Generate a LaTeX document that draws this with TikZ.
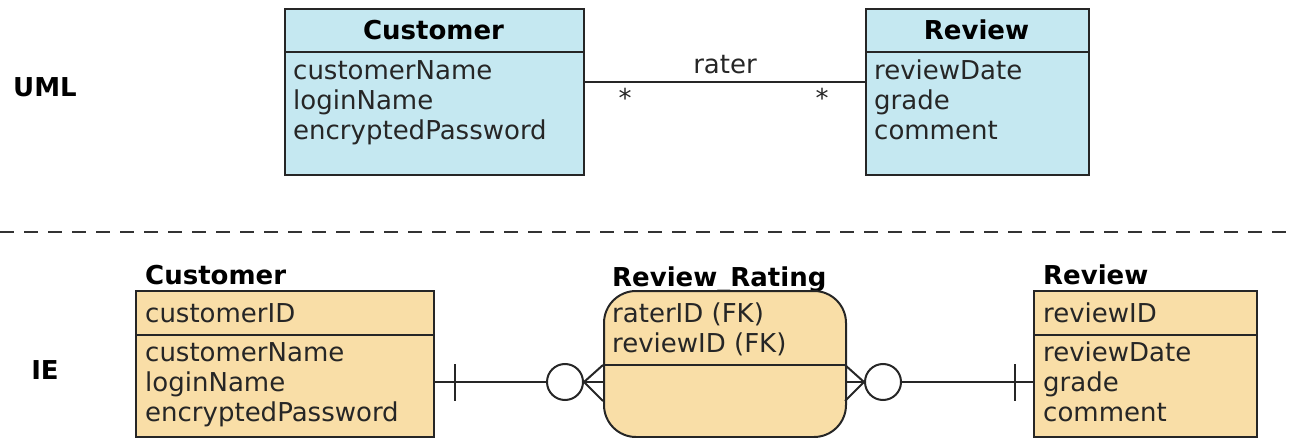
\documentclass[tikz,border=0pt]{standalone}
\usepackage{fontspec}
\setmainfont{DejaVu Sans}
\begin{document}
\begin{tikzpicture}[x=1pt,y=-1pt,
  umlbox/.style={draw=black!85,line width=2pt,fill=umlblue},
  iebox/.style={draw=black!85,line width=2pt,fill=ieorange},
  txt/.style={inner sep=0pt,anchor=base west,font=\fontsize{26}{30}\selectfont,text=black!85},
  ttl/.style={inner sep=0pt,anchor=base west,font=\fontsize{26}{30}\selectfont\bfseries},
  conn/.style={draw=black!85,line width=2pt},
  dividerline/.style={draw=black!85,line width=2pt}
]
\definecolor{umlblue}{RGB}{197,232,241}
\definecolor{ieorange}{RGB}{249,222,167}
\useasboundingbox (0,0) rectangle (1292,438);

% ---- UML ----
\node[ttl,anchor=base] (umllbl) at (45,97) {UML};
\node[umlbox,draw,rectangle,minimum width=299pt,minimum height=166pt,anchor=north west,inner sep=0pt] (ucust) at (284,8) {};
\draw[dividerline] (284,52) -- (583,52);
\node[ttl,anchor=base] (ucustt) at (433.5,40) {Customer};
\node[txt] (uc1) at (293,80) {customerName};
\node[txt] (uc2) at (293,110) {loginName};
\node[txt] (uc3) at (293,140) {encryptedPassword};

\node[umlbox,draw,rectangle,minimum width=223pt,minimum height=166pt,anchor=north west,inner sep=0pt] (urev) at (865,8) {};
\draw[dividerline] (865,52) -- (1088,52);
\node[ttl,anchor=base] (urevt) at (976.5,40) {Review};
\node[txt] (ur1) at (874,80) {reviewDate};
\node[txt] (ur2) at (874,110) {grade};
\node[txt] (ur3) at (874,140) {comment};

\coordinate (ua) at (ucust.east |- 0,82);
\coordinate (ub) at (urev.west |- 0,82);
\draw[conn] (ua) -- (ub);
\node[txt,anchor=base] (rater) at (725,74) {rater};
\node[txt,anchor=base] (star1) at (625,108) {*};
\node[txt,anchor=base] (star2) at (822,108) {*};

% ---- separator ----
\coordinate (sepl) at (0,232);
\coordinate (sepr) at (1292,232);
\draw[draw=black!80,line width=2pt,dash pattern=on 14pt off 10pt] (sepl) -- (sepr);

% ---- IE ----
\node[ttl,anchor=base] (ielbl) at (45,379) {IE};

\node[ttl] (icustt) at (145,284) {Customer};
\node[iebox,draw,rectangle,minimum width=298pt,minimum height=146pt,anchor=north west,inner sep=0pt] (icust) at (135,290) {};
\draw[dividerline] (135,335) -- (433,335);
\node[txt] (ic0) at (145,322) {customerID};
\node[txt] (ic1) at (145,361) {customerName};
\node[txt] (ic2) at (145,391) {loginName};
\node[txt] (ic3) at (145,421) {encryptedPassword};

\node[ttl] (irrt) at (612,287) {Review\_Rating};
\node[iebox,draw,rectangle,rounded corners=32pt,minimum width=242pt,minimum height=146pt,anchor=north west,inner sep=0pt] (irr) at (603,290) {};
\draw[dividerline] (603,365) -- (845,365);
\node[txt] (irr1) at (612,322) {raterID (FK)};
\node[txt] (irr2) at (612,352) {reviewID (FK)};

\node[ttl] (irevt) at (1043,284) {Review};
\node[iebox,draw,rectangle,minimum width=223pt,minimum height=146pt,anchor=north west,inner sep=0pt] (irev) at (1033,290) {};
\draw[dividerline] (1033,335) -- (1256,335);
\node[txt] (ir0) at (1043,322) {reviewID};
\node[txt] (ir1) at (1043,361) {reviewDate};
\node[txt] (ir2) at (1043,391) {grade};
\node[txt] (ir3) at (1043,421) {comment};

% left relationship
\node[circle,draw=black!85,line width=2pt,minimum size=36pt,inner sep=0pt] (lc) at (565,382) {};
\coordinate (la) at (icust.east |- 0,382);
\coordinate (lapex) at (lc.east);
\coordinate (lbox) at (irr.west |- 0,382);
\draw[conn] (la) -- (lc.west);
\draw[conn] (455,364) -- (455,401);
\draw[conn] (lapex) -- (lbox);
\draw[conn] (lapex) -- (603,365);
\draw[conn] (lapex) -- (603,401);

% right relationship
\node[circle,draw=black!85,line width=2pt,minimum size=36pt,inner sep=0pt] (rc) at (883,382) {};
\coordinate (rbox) at (irr.east |- 0,382);
\coordinate (rapex) at (rc.west);
\coordinate (rb) at (irev.west |- 0,382);
\draw[conn] (rbox) -- (rapex);
\draw[conn] (845,365) -- (rapex);
\draw[conn] (845,401) -- (rapex);
\draw[conn] (rc.east) -- (rb);
\draw[conn] (1015,364) -- (1015,401);
\end{tikzpicture}
\end{document}
